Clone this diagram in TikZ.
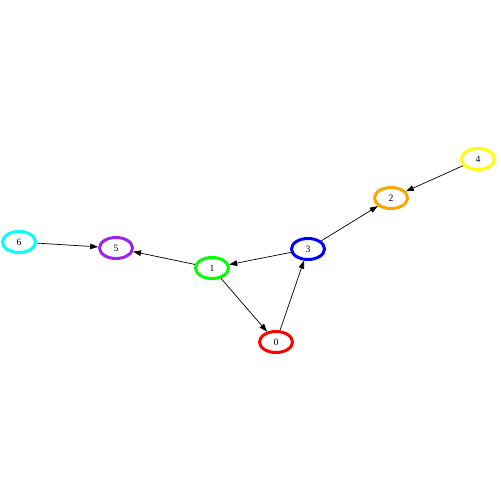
\documentclass[tikz,border=0pt]{standalone}
\usepackage{fontspec}
\setmainfont{Liberation Serif}
\usepackage{tikz}
\usetikzlibrary{arrows.meta, shapes.geometric}
\definecolor{lime}{RGB}{0, 255, 0}
\definecolor{amber}{RGB}{255, 165, 0}
\definecolor{lemon}{RGB}{255, 255, 0}
\definecolor{violet}{RGB}{160, 32, 240}
\definecolor{aqua}{RGB}{0, 255, 255}

\begin{document}
\begin{tikzpicture}[x=0.02cm, y=-0.02cm,
  vtx/.style={ellipse, draw, line width=1.7pt, minimum width=0.66cm, minimum height=0.42cm, inner sep=0pt, font=\fontsize{5.5}{6}\selectfont},
  edge/.style={line width=0.4pt, -{Triangle[length=4.5pt, width=3.2pt]}}]
  \useasboundingbox (0,0) rectangle (500,500);
  % The vertices
  \node[vtx, red] (n0) at (276,342) {\color{black}0};
  \node[vtx, lime] (n1) at (212,268) {\color{black}1};
  \node[vtx, amber] (n2) at (391,198) {\color{black}2};
  \node[vtx, blue] (n3) at (308,249) {\color{black}3};
  \node[vtx, lemon] (n4) at (478,159) {\color{black}4};
  \node[vtx, violet] (n5) at (116,248) {\color{black}5};
  \node[vtx, aqua] (n6) at (19,242) {\color{black}6};
  % The edges
  \draw[edge] (n6) -- (n5);
  \draw[edge] (n1) -- (n5);
  \draw[edge] (n3) -- (n1);
  \draw[edge] (n1) -- (n0);
  \draw[edge] (n0) -- (n3);
  \draw[edge] (n3) -- (n2);
  \draw[edge] (n4) -- (n2);
\end{tikzpicture}
\end{document}
